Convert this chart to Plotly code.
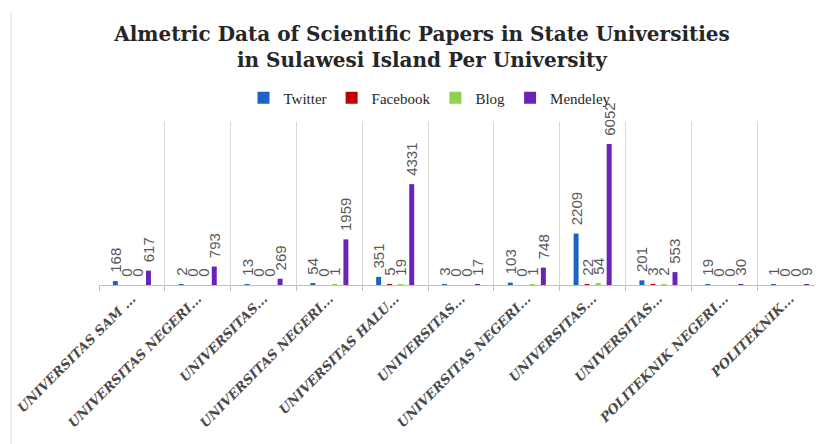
import plotly.graph_objects as go

categories = [
    "UNIVERSITAS SAM ...",
    "UNIVERSITAS NEGERI...",
    "UNIVERSITAS...",
    "UNIVERSITAS NEGERI...",
    "UNIVERSITAS HALU...",
    "UNIVERSITAS...",
    "UNIVERSITAS NEGERI...",
    "UNIVERSITAS...",
    "UNIVERSITAS...",
    "POLITEKNIK NEGERI...",
    "POLITEKNIK...",
]
twitter = [168, 2, 13, 54, 351, 3, 103, 2209, 201, 19, 1]
facebook = [0, 0, 0, 0, 5, 0, 0, 22, 3, 0, 0]
blog = [0, 0, 0, 1, 19, 0, 1, 54, 2, 0, 0]
mendeley = [617, 793, 269, 1959, 4331, 17, 748, 6052, 553, 30, 9]

series = [
    ("Twitter", twitter, "#1B63C6"),
    ("Facebook", facebook, "#C00000"),
    ("Blog", blog, "#92D050"),
    ("Mendeley", mendeley, "#6A22B8"),
]

# make duplicate category labels unique with zero-width spaces
cats = [c + "\u200b" * i for i, c in enumerate(categories)]

# page has an 8px body margin, so the figure is drawn 8px in from the window edge
OFF = 8
W, H = 823 - OFF, 444 - OFF
L, R, T, B = 99 - OFF, 0, 122 - OFF, 444 - 285
pw, ph = W - L - R, H - T - B

fig = go.Figure()
for name, vals, col in series:
    fig.add_trace(go.Bar(
        name=name, x=cats, y=vals,
        marker=dict(color=col, line=dict(width=0)),
        text=["\u00a0\u00a0" + str(v) for v in vals],
        textposition="outside", textangle=-90,
        constraintext="none", cliponaxis=False,
        textfont=dict(family="Liberation Sans", size=15, color="#595959"),
    ))

fig.update_layout(
    width=W, height=H,
    margin=dict(l=L, r=R, t=T, b=B, autoexpand=False),
    paper_bgcolor="white", plot_bgcolor="white",
    barmode="group", bargap=0.33, bargroupgap=0.55,
    title=dict(
        text="Almetric Data of Scientific Papers in State Universities<br>in Sulawesi Island Per University",
        font=dict(family="DejaVu Serif", size=20, color="#262626", weight="bold"),
        x=(422 - OFF) / W, xanchor="center", xref="container",
        y=1 - 33 / H, yanchor="top", yref="container",
    ),
    legend=dict(
        orientation="h", x=(430 - OFF - L) / pw, xanchor="center",
        y=(285 - 98) / ph, yanchor="middle",
        font=dict(family="Liberation Serif", size=15, color="#262626"),
        itemwidth=30, tracegroupgap=0, bgcolor="rgba(0,0,0,0)",
    ),
    xaxis=dict(
        type="category", tickson="boundaries", automargin=False,
        showgrid=True, gridcolor="#D9D9D9", gridwidth=1,
        showline=True, linecolor="#BFBFBF", linewidth=1,
        ticks="outside", ticklen=5, tickcolor="#BFBFBF",
        tickangle=-45,
        tickfont=dict(family="DejaVu Serif", size=13, color="#4A4A4A",
                      weight="bold", style="italic"),
    ),
    yaxis=dict(range=[0, 7000], visible=False, showgrid=False, automargin=False),
    showlegend=True,
)

# chart frame left edge
fig.add_shape(type="line", xref="paper", yref="paper",
              x0=(11 - OFF - L) / pw, x1=(11 - OFF - L) / pw,
              y0=(285 - 12) / ph, y1=(285 - 444) / ph,
              line=dict(color="#D9D9D9", width=1))

fig.write_html("out.html")
